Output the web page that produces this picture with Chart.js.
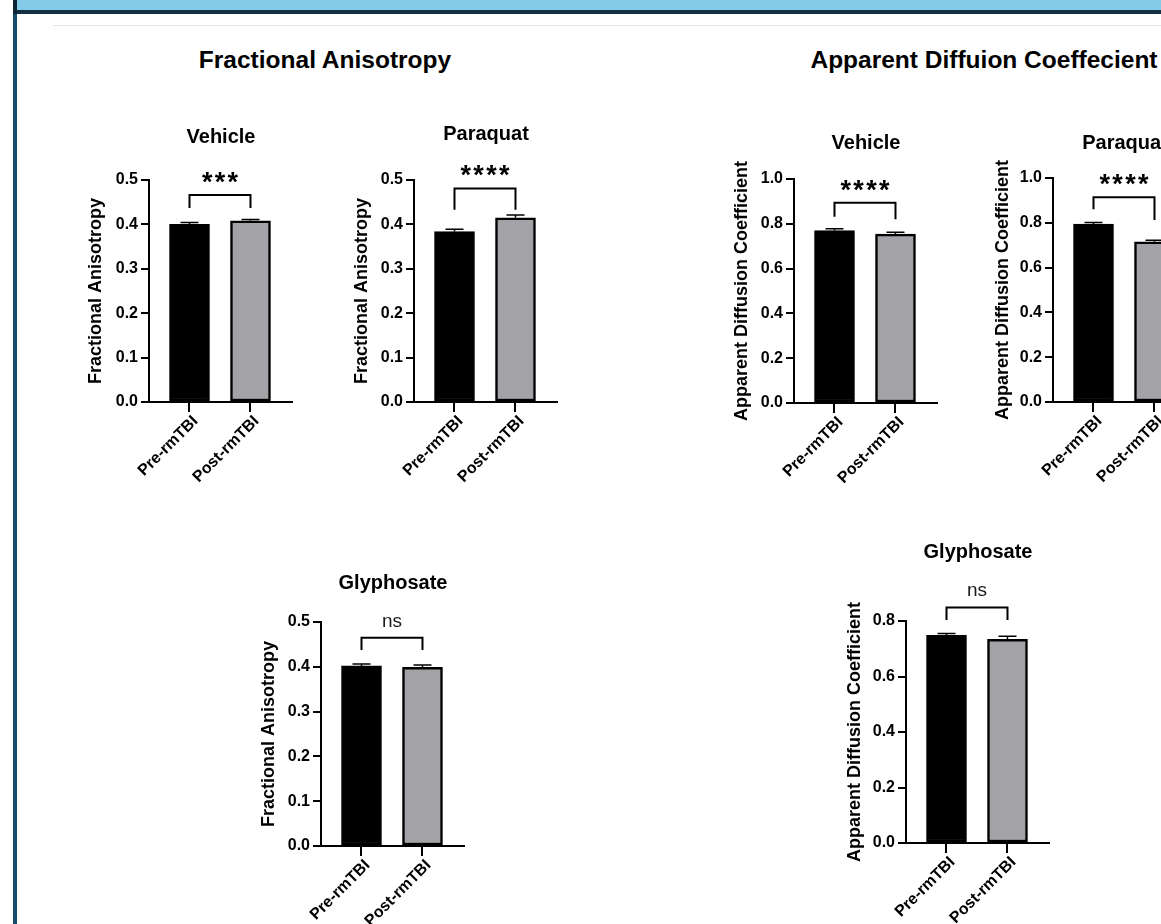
<!DOCTYPE html>
<html>
<head>
<meta charset="utf-8">
<script src="https://cdn.jsdelivr.net/npm/chart.js@4.4.1/dist/chart.umd.min.js"></script>
<style>
  html, body { margin: 0; padding: 0; width: 1161px; height: 924px; overflow: hidden; background: #fff;
    font-family: "Liberation Sans", Arial, sans-serif; position: relative; }
  #band { position: absolute; left: 17px; top: 0; right: 0; height: 11px; background: #84cbea; }
  #bandEdge { position: absolute; left: 13px; top: 10px; right: 0; height: 4px; background: #12303f; }
  #sideEdge { position: absolute; left: 13px; top: 0; width: 4px; height: 924px; background: #184a69; }
  #corner { position: absolute; left: 13px; top: 0; width: 4px; height: 14px; background: #0d2532; }
  #rule { position: absolute; left: 53px; top: 25px; right: 0; height: 1px; background: #e6e6e6; }
  .section { position: absolute; top: 47px; font-weight: bold; font-size: 24.5px; line-height: 26px; color: #000;
    white-space: nowrap; transform: translateX(-50%); }
  canvas { position: absolute; }
</style>
</head>
<body>
<div id="band"></div>
<div id="bandEdge"></div>
<div id="sideEdge"></div>
<div id="corner"></div>
<div id="rule"></div>
<div class="section" style="left:325px">Fractional Anisotropy</div>
<div class="section" style="left:984px">Apparent Diffuion Coeffecient</div>

<script>
// Group labels on the x axis
const categories = ['Pre-rmTBI', 'Post-rmTBI'];

// Fractional anisotropy: means and SEM per group
const faVehicle = [0.400, 0.408];
const faVehicleSem = [0.004, 0.003];
const faParaquat = [0.384, 0.415];
const faParaquatSem = [0.005, 0.006];
const faGlyphosate = [0.402, 0.399];
const faGlyphosateSem = [0.004, 0.005];

// Apparent diffusion coefficient: means and SEM per group
const adcVehicle = [0.770, 0.754];
const adcVehicleSem = [0.008, 0.008];
const adcParaquat = [0.794, 0.715];
const adcParaquatSem = [0.007, 0.007];
const adcGlyphosate = [0.748, 0.734];
const adcGlyphosateSem = [0.007, 0.011];

// Significance marks for the pre/post comparison
const faVehicleSig = '***';
const faParaquatSig = '****';
const faGlyphosateSig = 'ns';
const adcVehicleSig = '****';
const adcParaquatSig = '****';
const adcGlyphosateSig = 'ns';

// Y axis ranges
const faAxis = { max: 0.5, step: 0.1 };
const adcAxis = { max: 1.0, step: 0.2 };
const adcGlyAxis = { max: 0.8, step: 0.2 };

const FONT = '"Liberation Sans", Arial, sans-serif';
Chart.defaults.font.family = FONT;
Chart.defaults.color = '#000';

// Placement of each small panel on the page (page pixels) and bracket levels (axis units)
const panels = [
  { title: 'Vehicle', yTitle: 'Fractional Anisotropy', values: faVehicle, sem: faVehicleSem, sig: faVehicleSig, axis: faAxis,
    ax: 149, top: 180, bot: 402, right: 293, titleX: 96, subY: 137, bracket: [0.466, 0.437, 0.437] },
  { title: 'Paraquat', yTitle: 'Fractional Anisotropy', values: faParaquat, sem: faParaquatSem, sig: faParaquatSig, axis: faAxis,
    ax: 414, top: 180, bot: 402, right: 558, titleX: 362, subY: 134, bracket: [0.481, 0.433, 0.433] },
  { title: 'Vehicle', yTitle: 'Apparent Diffusion Coefficient', values: adcVehicle, sem: adcVehicleSem, sig: adcVehicleSig, axis: adcAxis,
    ax: 794, top: 179, bot: 403, right: 938, titleX: 742, subY: 143, bracket: [0.894, 0.832, 0.82] },
  { title: 'Paraquat', yTitle: 'Apparent Diffusion Coefficient', values: adcParaquat, sem: adcParaquatSem, sig: adcParaquatSig, axis: adcAxis,
    ax: 1053, top: 178, bot: 402, right: 1197, titleX: 1003, subY: 143, bracket: [0.914, 0.86, 0.8125] },
  { title: 'Glyphosate', yTitle: 'Fractional Anisotropy', values: faGlyphosate, sem: faGlyphosateSem, sig: faGlyphosateSig, axis: faAxis,
    ax: 321, top: 622, bot: 846, right: 465, titleX: 269, subY: 583, bracket: [0.465, 0.4375, 0.4375] },
  { title: 'Glyphosate', yTitle: 'Apparent Diffusion Coefficient', values: adcGlyphosate, sem: adcGlyphosateSem, sig: adcGlyphosateSig, axis: adcGlyAxis,
    ax: 906, top: 621, bot: 843, right: 1050, titleX: 855, subY: 552, bracket: [0.849, 0.804, 0.804] }
];

// Panel title, SEM caps, comparison bracket and significance text
const annotate = {
  id: 'annotate',
  afterDatasetsDraw(chart, args, opts) {
    const p = opts.panel;
    const { ctx, chartArea } = chart;
    const x = chart.scales.x, y = chart.scales.y;
    ctx.save();

    // SEM error bars
    ctx.strokeStyle = '#000';
    ctx.lineWidth = 1.5;
    p.values.forEach((v, i) => {
      const cx = x.getPixelForValue(i);
      const y0 = y.getPixelForValue(v);
      const y1 = y.getPixelForValue(v + p.sem[i]);
      ctx.beginPath();
      ctx.moveTo(cx, y0); ctx.lineTo(cx, y1);
      ctx.moveTo(cx - 9, y1); ctx.lineTo(cx + 9, y1);
      ctx.stroke();
    });

    // Bracket
    const xa = x.getPixelForValue(0), xb = x.getPixelForValue(1);
    const by = y.getPixelForValue(p.bracket[0]);
    ctx.lineWidth = 2;
    ctx.beginPath();
    ctx.moveTo(xa, y.getPixelForValue(p.bracket[1]));
    ctx.lineTo(xa, by);
    ctx.lineTo(xb, by);
    ctx.lineTo(xb, y.getPixelForValue(p.bracket[2]));
    ctx.stroke();

    // Significance
    const mid = (xa + xb) / 2;
    ctx.textAlign = 'center';
    ctx.textBaseline = 'alphabetic';
    if (p.sig === 'ns') {
      ctx.fillStyle = '#1a1a1a';
      ctx.font = '19px ' + FONT;
      ctx.fillText(p.sig, mid, by - 11);
    } else {
      ctx.fillStyle = '#000';
      ctx.font = 'bold 27px ' + FONT;
      const n = p.sig.length;
      for (let k = 0; k < n; k++) {
        ctx.fillText('*', mid + (k - (n - 1) / 2) * 12.8, by - 4);
      }
    }

    // Panel title
    ctx.fillStyle = '#000';
    ctx.font = 'bold 20px ' + FONT;
    ctx.textBaseline = 'middle';
    ctx.fillText(p.title, (chartArea.left + chartArea.right) / 2, chartArea.top - (p.top - p.subY));
    ctx.restore();
  }
};

const gridStyle = (len) => ({
  display: true, drawOnChartArea: false, drawTicks: true, offset: false,
  tickLength: len, tickWidth: 2, tickColor: '#000', color: '#000', lineWidth: 2
});

panels.forEach(p => {
  const left = Math.round(p.titleX - 11);
  const topPad = p.top - p.subY + 22;
  const xHeight = 100;
  const canvasTop = p.top - topPad;
  const w = p.right - left;
  const h = p.bot - canvasTop + xHeight;

  const cv = document.createElement('canvas');
  cv.width = w; cv.height = h;
  cv.style.left = left + 'px'; cv.style.top = canvasTop + 'px';
  cv.style.width = w + 'px'; cv.style.height = h + 'px';
  document.body.appendChild(cv);

  new Chart(cv, {
    type: 'bar',
    data: {
      datasets: [{
        data: p.values.map((v, i) => ({ x: i, y: v })),
        backgroundColor: ['#000000', '#a3a3a7'],
        borderColor: '#000',
        borderWidth: 2.5,
        borderSkipped: false,
        barThickness: 40
      }]
    },
    options: {
      responsive: false,
      animation: false,
      devicePixelRatio: 1,
      layout: { padding: { top: topPad, left: 0, right: 0, bottom: 0 } },
      plugins: { legend: { display: false }, tooltip: { enabled: false }, annotate: { panel: p } },
      scales: {
        x: {
          type: 'linear',
          offset: false,
          min: -0.664,
          max: 1.697,
          afterBuildTicks: s => { s.ticks = categories.map((c, i) => ({ value: i })); },
          afterFit: s => { s.height = xHeight; },
          ticks: {
            autoSkip: false, minRotation: 45, maxRotation: 45, padding: 0, labelOffset: 6, color: '#000',
            font: { weight: 'bold', size: 16 },
            callback: (v, i) => categories[i]
          },
          grid: gridStyle(10),
          border: { display: true, color: '#000', width: 2 }
        },
        y: {
          min: 0,
          max: p.axis.max,
          afterFit: s => { s.width = p.ax - left; },
          ticks: {
            stepSize: p.axis.step, padding: 3, color: '#000',
            font: { weight: 'bold', size: 16 },
            callback: v => Number(v).toFixed(1)
          },
          title: {
            display: true, text: p.yTitle, color: '#000', padding: 0,
            font: { weight: 'bold', size: 18 }
          },
          grid: gridStyle(8),
          border: { display: true, color: '#000', width: 2 }
        }
      }
    },
    plugins: [annotate]
  });
});
</script>
</body>
</html>
